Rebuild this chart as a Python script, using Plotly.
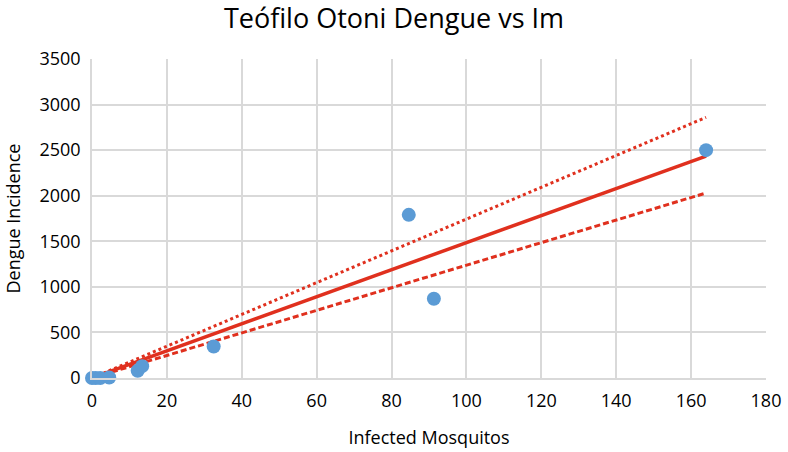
import plotly.graph_objects as go

# Data points
mosq = [0.0, 1.0, 2.2, 4.6, 12.2, 13.4, 32.5, 84.6, 91.3, 164.0]
dengue = [0, 0, 0, 5, 80, 130, 345, 1790, 870, 2500]

# Trend line and bounds (endpoints)
fit_x = [3.0, 164.0]
fit_y = [45, 2435]
upper_y = [52, 2860]
lower_y = [37, 2030]

red = "#E0301E"
blue = "#5B9BD5"
font = "Open Sans"

fig = go.Figure()
fig.add_trace(go.Scatter(x=fit_x, y=upper_y, mode="lines",
                         line=dict(color=red, width=3, dash="dot"), showlegend=False))
fig.add_trace(go.Scatter(x=fit_x, y=lower_y, mode="lines",
                         line=dict(color=red, width=3, dash="6px,3px"), showlegend=False))
fig.add_trace(go.Scatter(x=fit_x, y=fit_y, mode="lines",
                         line=dict(color=red, width=3.5), showlegend=False))
fig.add_trace(go.Scatter(x=mosq, y=dengue, mode="markers",
                         marker=dict(color=blue, size=14), cliponaxis=False, showlegend=False))

fig.update_layout(
    width=788, height=452,
    margin=dict(l=92, r=22, t=59, b=74),
    plot_bgcolor="white", paper_bgcolor="white",
    font=dict(family=font, color="#000000", size=18),
    title=dict(text="Teófilo Otoni Dengue vs Im", x=0.5, xanchor="center",
               y=1 - 19 / 452, yanchor="middle", font=dict(size=27, family=font, color="#000000")),
    xaxis=dict(range=[0, 180], dtick=20, tick0=0, showgrid=True, gridcolor="#D9D9D9",
               gridwidth=1.5, zeroline=False, showline=True, linecolor="#D9D9D9", linewidth=1.5,
               ticks="outside", ticklen=6, tickcolor="rgba(0,0,0,0)", automargin=False,
               title=dict(text="Infected Mosquitos", font=dict(size=18), standoff=20),
               tickfont=dict(size=18)),
    yaxis=dict(range=[0, 3500], dtick=500, tick0=0, showgrid=True, gridcolor="#D9D9D9",
               gridwidth=1.5, zeroline=False, showline=True, linecolor="#D9D9D9", linewidth=1.5,
               ticks="outside", ticklen=6, tickcolor="rgba(0,0,0,0)", automargin=False,
               title=dict(text="Dengue Incidence", font=dict(size=18), standoff=14),
               tickfont=dict(size=18)),
)
fig.write_html("out.html")
